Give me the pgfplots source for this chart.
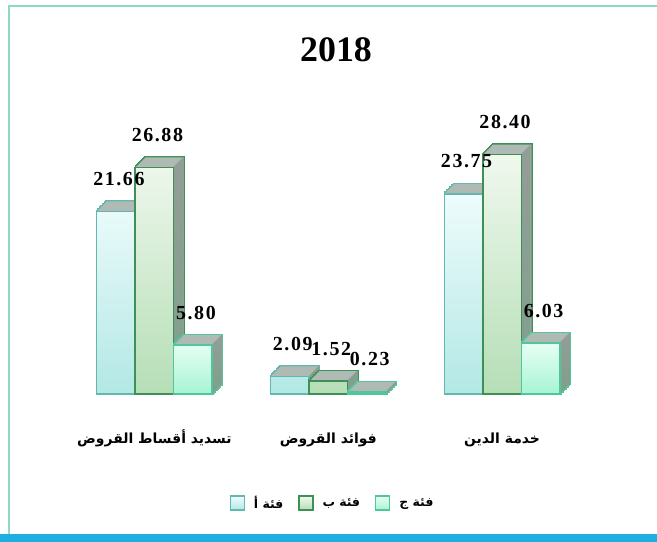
\documentclass[border=0pt]{standalone}
\usepackage{pgfplots}
\pgfplotsset{compat=1.18}
\usepackage{pgfplotstable}
\usepackage{fontspec}
\setmainfont{Liberation Serif}
\newfontfamily\numfont[LetterSpace=8]{Liberation Serif}
\newfontfamily\arabicfont[Script=Arabic]{DejaVu Sans}
\TeXXeTstate=1

\definecolor{aTop}{HTML}{EEFCFC}
\definecolor{aBot}{HTML}{B2E8E5}
\definecolor{aLine}{HTML}{62B8AE}
\definecolor{bTop}{HTML}{F0F8EE}
\definecolor{bBot}{HTML}{B5DEB6}
\definecolor{bLine}{HTML}{3F9057}
\definecolor{cTop}{HTML}{E6FFF3}
\definecolor{cBot}{HTML}{A6F4D4}
\definecolor{cLine}{HTML}{4FC69C}
\definecolor{topface}{HTML}{B0BAB4}
\definecolor{sideTop}{HTML}{939D97}
\definecolor{sideBot}{HTML}{7FA08C}
\definecolor{frame}{HTML}{8ED9BF}
\definecolor{band}{HTML}{1EAEE0}

% values per category (x = 0,1,2 left to right)
\pgfplotstableread{
x a b c
0 21.66 26.88 5.80
1 2.09 1.52 0.23
2 23.75 28.40 6.03
}\debt

% depth of the cubes: 10bp right, 10bp up, in 16 steps
\newcommand\extrude[3]{% #1 column, #2 bar shift (bp), #3 edge colour
  \pgfplotsinvokeforeach{1,...,16}{%
    \addplot[ybar, forget plot, bar width=38.5bp, bar shift={#2bp+##1*0.625bp},
      yshift=##1*0.625bp, draw=#3, line width=2.4bp, fill=topface]
      table[x=x, y=#1] {\debt};
  }%
  \pgfplotsinvokeforeach{1,...,16}{%
    \addplot[ybar, forget plot, bar width=38.5bp, bar shift={#2bp+##1*0.625bp},
      yshift=##1*0.625bp, draw=none, fill=topface]
      table[x=x, y=#1] {\debt};
  }%
  \pgfplotsinvokeforeach{1,...,16}{%
    \addplot[ybar, forget plot, bar width=1bp, bar shift={#2bp+18.75bp+##1*0.625bp},
      yshift=##1*0.625bp, draw=none, top color=sideTop, bottom color=sideBot]
      table[x=x, y=#1] {\debt};
  }%
}

\pgfplotsset{
  front/.style={ybar, bar width=38.5bp, bar shift=#1bp, line width=1.6bp,
    nodes near coords={\pgfmathprintnumber[fixed,fixed zerofill,precision=2,assume math mode=true]{\pgfplotspointmeta}},
    nodes near coords style={font=\numfont\fontsize{20}{22}\selectfont\bfseries,
      text=black, inner sep=0pt, anchor=south, yshift=25bp, xshift=#1bp+3bp}},
}

\begin{document}
\begin{tikzpicture}
\useasboundingbox (0,0) rectangle (657bp,542bp);
\fill[band] (0,0) rectangle (657bp,7.5bp);
\draw[frame, line width=2bp] (8.5bp,7.5bp) -- (8.5bp,536bp) -- (657bp,536bp);
\node[font=\fontsize{36}{40}\selectfont\bfseries, anchor=base] at (336bp,480bp) {2018};

\begin{axis}[
  at={(67.5bp,148bp)}, anchor=south west,
  scale only axis, width=521.5bp, height=252.9bp,
  xmin=-0.5, xmax=2.5, ymin=0, ymax=30,
  clip=false,
  axis line style={draw=none},
  major tick style={draw=none},
  ytick=\empty,
  xtick={0,1,2},
  xticklabels={
    {\beginR تسديد أقساط القروض\endR},
    {\beginR فوائد القروض\endR},
    {\beginR خدمة الدين\endR}},
  xticklabel style={font=\arabicfont\bfseries\fontsize{14}{16}\selectfont,
    anchor=base, yshift=-49bp},
  legend columns=3,
  legend style={at={(0.515,-0.431)}, anchor=center, draw=none, fill=none,
    font=\arabicfont\bfseries\fontsize{12.5}{14}\selectfont,
    nodes={inner xsep=9bp},
    /tikz/every even column/.append style={column sep=6bp}},
]
\extrude{a}{-38.5}{aLine}
\addplot[front=-38.5, draw=aLine, top color=aTop, bottom color=aBot,
  legend image code/.code={\draw[draw=aLine, line width=1.2bp, top color=aTop, bottom color=aBot] (0bp,-7bp) rectangle (14bp,7bp);}]
  table[x=x, y=a] {\debt};
\addlegendentry{\beginR فئة أ\endR}
\extrude{b}{0}{bLine}
\addplot[front=0, draw=bLine, top color=bTop, bottom color=bBot,
  legend image code/.code={\draw[draw=bLine, line width=1.2bp, top color=bTop, bottom color=bBot] (0bp,-7bp) rectangle (14bp,7bp);}]
  table[x=x, y=b] {\debt};
\addlegendentry{\beginR فئة ب\endR}
\extrude{c}{38.5}{cLine}
\addplot[front=38.5, draw=cLine, top color=cTop, bottom color=cBot,
  legend image code/.code={\draw[draw=cLine, line width=1.2bp, top color=cTop, bottom color=cBot] (0bp,-7bp) rectangle (14bp,7bp);}]
  table[x=x, y=c] {\debt};
\addlegendentry{\beginR فئة ج\endR}
\end{axis}
\end{tikzpicture}
\end{document}
